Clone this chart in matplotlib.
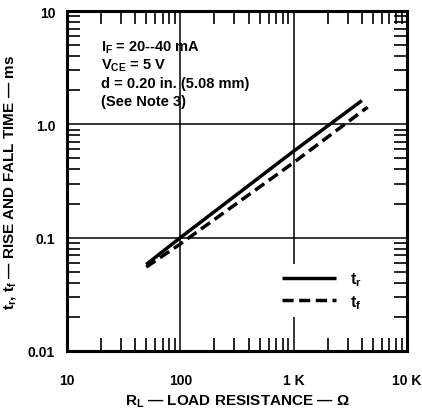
import matplotlib
matplotlib.use("Agg")
import matplotlib.pyplot as plt
from matplotlib.ticker import LogLocator, NullFormatter, FixedLocator, FixedFormatter

plt.rcParams['font.family'] = ['Liberation Sans', 'DejaVu Sans']
plt.rcParams['font.weight'] = 'bold'
plt.rcParams['mathtext.fontset'] = 'custom'
plt.rcParams['mathtext.bf'] = 'Liberation Sans:bold'
plt.rcParams['mathtext.rm'] = 'Liberation Sans:bold'
plt.rcParams['mathtext.default'] = 'bf'

# Data
rl_rise = [50, 100, 1000, 4000]
t_rise = [0.058, 0.10, 0.58, 1.62]
rl_fall = [50, 100, 1000, 4500]
t_fall = [0.055, 0.088, 0.46, 1.42]

x_ticks = [10, 100, 1000, 10000]
x_labels = ['10', '100', '1 K', '10 K']
y_ticks = [0.01, 0.1, 1.0, 10]
y_labels = ['0.01', '0.1', '1.0', '10']

fig = plt.figure(figsize=(4.22, 4.14), dpi=100)
ax = fig.add_axes([67/422, 1-352/414, 340/422, 340/414])

ax.set_xscale('log')
ax.set_yscale('log')
ax.set_xlim(10, 10000)
ax.set_ylim(0.01, 10)

ax.plot(rl_rise, t_rise, color='black', lw=2.5, solid_capstyle='butt', label=r't$_\mathregular{r}$')
ax.plot(rl_fall, t_fall, color='black', lw=2.5, dashes=(3.2, 1.6), label=r't$_\mathregular{f}$')

ax.xaxis.set_major_locator(FixedLocator(x_ticks))
ax.xaxis.set_major_formatter(FixedFormatter(x_labels))
ax.yaxis.set_major_locator(FixedLocator(y_ticks))
ax.yaxis.set_major_formatter(FixedFormatter(y_labels))
ax.xaxis.set_minor_locator(LogLocator(base=10, subs=range(2, 10)))
ax.yaxis.set_minor_locator(LogLocator(base=10, subs=range(2, 10)))
ax.xaxis.set_minor_formatter(NullFormatter())
ax.yaxis.set_minor_formatter(NullFormatter())

ax.tick_params(which='minor', direction='in', length=9.5, width=1.2,
               top=True, right=True, bottom=True, left=True)
ax.tick_params(which='major', length=0, labelsize=10, top=True, right=True)
ax.tick_params(axis='x', which='major', pad=16)
ax.tick_params(axis='y', which='major', pad=8.5)
for lab in ax.get_xticklabels() + ax.get_yticklabels():
    lab.set_fontweight('bold')

ax.grid(True, which='major', color='black', lw=1.1)
for s in ax.spines.values():
    s.set_linewidth(2.2)

fs_note = 10.5
ax.text(0.1, 0.895, r'I$_\mathregular{F}$ = 20--40 mA', transform=ax.transAxes, fontsize=fs_note, fontweight='bold', va='center')
ax.text(0.1, 0.842, r'V$_\mathregular{CE}$ = 5 V', transform=ax.transAxes, fontsize=fs_note, fontweight='bold', va='center')
ax.text(0.1, 0.789, 'd = 0.20 in. (5.08 mm)', transform=ax.transAxes, fontsize=fs_note, fontweight='bold', va='center')
ax.text(0.1, 0.736, '(See Note 3)', transform=ax.transAxes, fontsize=fs_note, fontweight='bold', va='center')

leg = ax.legend(loc='center', bbox_to_anchor=(0.75, 0.178), frameon=True, fontsize=11.5,
                handlelength=3.4, handletextpad=0.9, borderpad=0.4, labelspacing=0.3)
leg.get_frame().set_facecolor('white')
leg.get_frame().set_edgecolor('none')
leg.get_frame().set_alpha(1)

ax.set_xlabel('R$_\\mathregular{L}$ — LOAD RESISTANCE — Ω', fontsize=11, fontweight='bold', labelpad=4)
ax.set_ylabel('t$_\\mathregular{r}$, t$_\\mathregular{f}$ — RISE AND FALL TIME — ms', fontsize=11, fontweight='bold', labelpad=7)

fig.savefig('out.png', dpi=100)
